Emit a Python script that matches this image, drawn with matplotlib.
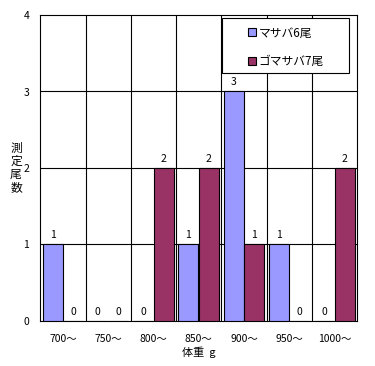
import numpy as np
import matplotlib; matplotlib.use("Agg")
import matplotlib.pyplot as plt
from matplotlib.lines import Line2D
from matplotlib.patches import Rectangle

plt.rcParams["font.family"] = ["Noto Sans CJK JP", "DejaVu Sans"]

# --- data ---
categories = ["700～", "750～", "800～", "850～", "900～", "950～", "1000～"]
masaba = [1, 0, 0, 1, 3, 1, 0]
gomasaba = [0, 0, 2, 2, 1, 0, 2]
series_names = ["マサバ6尾", "ゴマサバ7尾"]
colors = ["#9999FF", "#993366"]
ylabel_chars = ["測", "定", "尾", "数"]

fig = plt.figure(figsize=(3.75, 3.66), dpi=100)
ax = fig.add_axes([0.1075, 0.123, 0.8445, 0.836])

x = np.arange(len(categories))
w = 0.44
off = 0.228
for vals, dx, c in [(masaba, -off, colors[0]), (gomasaba, off, colors[1])]:
    bars = ax.bar(x + dx, vals, width=w, color=c, edgecolor="black", linewidth=0.8, zorder=3)
    for b, v in zip(bars, vals):
        ax.annotate(str(v), (b.get_x() + b.get_width() / 2, v), textcoords="offset points",
                    xytext=(0, 3), ha="center", va="bottom", fontsize=7.5, zorder=4)

ax.set_xlim(-0.5, len(categories) - 0.5)
ax.set_ylim(0, 4)
ax.set_yticks([0, 1, 2, 3, 4])
ax.set_xticks(x)
ax.set_xticklabels(categories)
ax.tick_params(axis="both", length=0, labelsize=7.5)
ax.tick_params(axis="x", pad=9.5)
ax.tick_params(axis="y", pad=8)

# grid: horizontal at integers, vertical at category boundaries
for yv in range(1, 4):
    ax.axhline(yv, color="black", linewidth=0.8, zorder=1)
for xv in np.arange(0.5, len(categories) - 0.5, 1):
    ax.axvline(xv, color="black", linewidth=0.8, zorder=1)
for s in ax.spines.values():
    s.set_linewidth(0.8)

ax.set_xlabel("体重  g", fontsize=8, labelpad=2)

# vertical y label, one character per line
for i, ch in enumerate(ylabel_chars):
    fig.text(16 / 375, 1 - (148 + 13.3 * i) / 366, ch, fontsize=8.5, ha="center", va="center")

# legend box
ax.add_patch(Rectangle((0.574, 0.81), 0.402, 0.179, transform=ax.transAxes,
                       facecolor="white", edgecolor="black", linewidth=0.8, zorder=5))
handles = [Line2D([], [], marker="s", linestyle="", markersize=5.5, markerfacecolor=c,
                  markeredgecolor="black", markeredgewidth=0.8) for c in colors]
leg = ax.legend(handles, series_names, loc="center left", bbox_to_anchor=(0.655, 0.895),
                fontsize=8.5, frameon=False, labelspacing=1.3, handletextpad=0.1,
                handlelength=0.8, borderpad=0, borderaxespad=0)
leg.set_zorder(6)

plt.savefig("out.png", dpi=100, facecolor="white")
